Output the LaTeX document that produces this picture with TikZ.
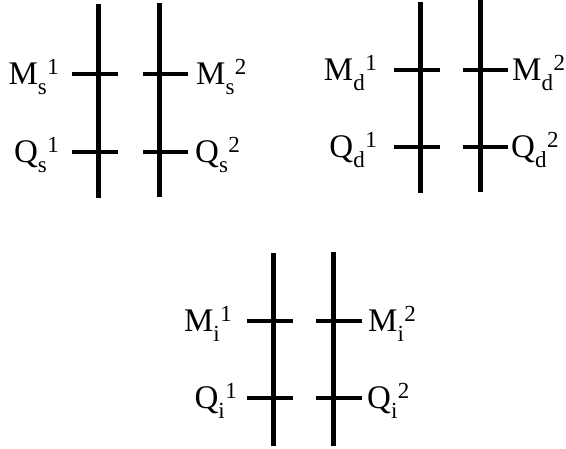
\documentclass[tikz,border=0pt]{standalone}
\usepackage{fontspec}
\setmainfont{Liberation Serif}
\newcommand{\lbl}[3]{#1\raisebox{-10pt}{\fontsize{23}{23}\selectfont #2}\kern0.5pt\raisebox{10pt}{\fontsize{23}{23}\selectfont #3}}
\begin{document}
\begin{tikzpicture}[x=1pt,y=-1pt,
  bar/.style={line width=5pt},
  tick/.style={line width=4pt},
  lab/.style={inner sep=0pt,font=\fontsize{33}{36}\selectfont},
  labl/.style={lab,anchor=base east},
  labr/.style={lab,anchor=base west}]
\useasboundingbox (0,0) rectangle (566,448);
% ---------- group s ----------
\coordinate (s1t) at (98.5,4);   \coordinate (s1b) at (98.5,198);
\coordinate (s2t) at (159.5,3);  \coordinate (s2b) at (159.5,197);
\draw[bar] (s1t) -- (s1b);
\draw[bar] (s2t) -- (s2b);
\coordinate (sM1a) at (72,74);  \coordinate (sM1b) at (118,74);
\coordinate (sM2a) at (143,74); \coordinate (sM2b) at (188,74);
\coordinate (sQ1a) at (72,152); \coordinate (sQ1b) at (118,152);
\coordinate (sQ2a) at (143,152);\coordinate (sQ2b) at (188,152);
\draw[tick] (sM1a) -- (sM1b);
\draw[tick] (sM2a) -- (sM2b);
\draw[tick] (sQ1a) -- (sQ1b);
\draw[tick] (sQ2a) -- (sQ2b);
\node[labl] (LsM1) at (59,84) {\lbl{M}{s}{1}};
\node[labr] (LsM2) at (196,84) {\lbl{M}{s}{2}};
\node[labl] (LsQ1) at (59,162) {\lbl{Q}{s}{1}};
\node[labr] (LsQ2) at (195,162) {\lbl{Q}{s}{2}};
% ---------- group d ----------
\coordinate (d1t) at (420,2);  \coordinate (d1b) at (420,193);
\coordinate (d2t) at (480,0);  \coordinate (d2b) at (480,192);
\draw[bar] (d1t) -- (d1b);
\draw[bar] (d2t) -- (d2b);
\coordinate (dM1a) at (394,70);  \coordinate (dM1b) at (440,70);
\coordinate (dM2a) at (463,70);  \coordinate (dM2b) at (508,70);
\coordinate (dQ1a) at (394,147); \coordinate (dQ1b) at (440,147);
\coordinate (dQ2a) at (463,147); \coordinate (dQ2b) at (508,147);
\draw[tick] (dM1a) -- (dM1b);
\draw[tick] (dM2a) -- (dM2b);
\draw[tick] (dQ1a) -- (dQ1b);
\draw[tick] (dQ2a) -- (dQ2b);
\node[labl] (LdM1) at (377,80) {\lbl{M}{d}{1}};
\node[labr] (LdM2) at (512,80) {\lbl{M}{d}{2}};
\node[labl] (LdQ1) at (377,157) {\lbl{Q}{d}{1}};
\node[labr] (LdQ2) at (511,157) {\lbl{Q}{d}{2}};
% ---------- group i ----------
\coordinate (i1t) at (273,253); \coordinate (i1b) at (273,446);
\coordinate (i2t) at (333,252); \coordinate (i2b) at (333,446);
\draw[bar] (i1t) -- (i1b);
\draw[bar] (i2t) -- (i2b);
\coordinate (iM1a) at (247,321); \coordinate (iM1b) at (293,321);
\coordinate (iM2a) at (316,321); \coordinate (iM2b) at (362,321);
\coordinate (iQ1a) at (247,398); \coordinate (iQ1b) at (293,398);
\coordinate (iQ2a) at (316,398); \coordinate (iQ2b) at (362,398);
\draw[tick] (iM1a) -- (iM1b);
\draw[tick] (iM2a) -- (iM2b);
\draw[tick] (iQ1a) -- (iQ1b);
\draw[tick] (iQ2a) -- (iQ2b);
\node[labl] (LiM1) at (232,331) {\lbl{M}{i}{1}};
\node[labr] (LiM2) at (368,331) {\lbl{M}{i}{2}};
\node[labl] (LiQ1) at (237,408) {\lbl{Q}{i}{1}};
\node[labr] (LiQ2) at (367,408) {\lbl{Q}{i}{2}};
\end{tikzpicture}
\end{document}
